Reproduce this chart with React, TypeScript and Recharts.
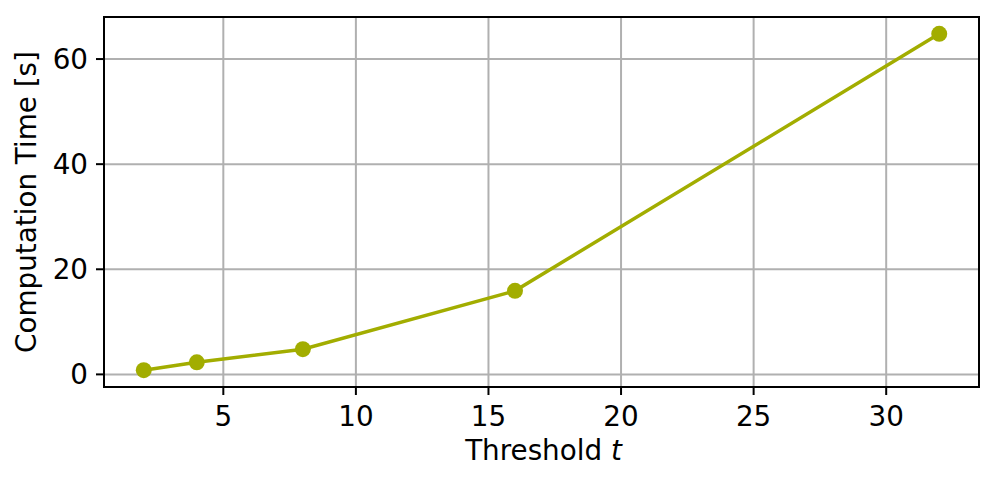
import React from "react";
import {
  LineChart,
  Line,
  XAxis,
  YAxis,
  CartesianGrid,
  ReferenceArea,
} from "recharts";

const thresholds = [2, 4, 8, 16, 32];
const times = [0.8, 2.3, 4.8, 15.9, 64.8];
const xTicks = [5, 10, 15, 20, 25, 30];
const yTicks = [0, 20, 40, 60];

const data = thresholds.map((t, i) => ({ t, time: times[i] }));

const X_DOMAIN: [number, number] = [0.5, 33.5];
const Y_DOMAIN: [number, number] = [-2.4, 68];
const LINE_COLOR = "#a2ad00";
const FONT = "'DejaVu Sans', sans-serif";
const FS = 27.8;

const XLabel = (props: any) => {
  const vb = props.viewBox || {};
  const cx = vb.x + vb.width / 2 + 2;
  return (
    <text x={cx} y={460} textAnchor="middle" fontSize={FS} fill="#000" fontFamily={FONT}>
      Threshold <tspan fontStyle="italic">t</tspan>
    </text>
  );
};

const YLabel = (props: any) => {
  const vb = props.viewBox || {};
  const cy = vb.y + vb.height / 2;
  return (
    <text
      x={36}
      y={cy}
      textAnchor="middle"
      fontSize={FS}
      fill="#000"
      fontFamily={FONT}
      transform={`rotate(-90, 36, ${cy})`}
    >
      Computation Time [s]
    </text>
  );
};

export default function App() {
  return (
    <div style={{ position: "absolute", left: 0, top: 0, width: 997, height: 484, background: "#fff" }}>
      <LineChart
        width={997}
        height={484}
        data={data}
        margin={{ top: 17, right: 18, bottom: 0, left: 0 }}
        style={{ fontFamily: FONT }}
      >
        <CartesianGrid stroke="#b0b0b0" strokeWidth={2} />
        <XAxis
          type="number"
          dataKey="t"
          domain={X_DOMAIN}
          ticks={xTicks}
          allowDataOverflow
          height={97}
          tickSize={8}
          tickMargin={11}
          tick={{ fontSize: FS, fill: "#000" }}
          tickLine={{ stroke: "#000", strokeWidth: 2 }}
          axisLine={{ stroke: "#000", strokeWidth: 2 }}
          label={<XLabel />}
        />
        <YAxis
          type="number"
          domain={Y_DOMAIN}
          ticks={yTicks}
          allowDataOverflow
          width={104}
          tickSize={8}
          tickMargin={8}
          tick={{ fontSize: FS, fill: "#000" }}
          tickLine={{ stroke: "#000", strokeWidth: 2 }}
          axisLine={{ stroke: "#000", strokeWidth: 2 }}
          label={<YLabel />}
        />
        <ReferenceArea
          x1={X_DOMAIN[0]}
          x2={X_DOMAIN[1]}
          y1={Y_DOMAIN[0]}
          y2={Y_DOMAIN[1]}
          fill="none"
          fillOpacity={0}
          stroke="#000"
          strokeWidth={2}
          strokeOpacity={1}
        />
        <Line
          type="linear"
          dataKey="time"
          stroke={LINE_COLOR}
          strokeWidth={3.5}
          dot={{ r: 8, fill: LINE_COLOR, stroke: LINE_COLOR, strokeWidth: 0, fillOpacity: 1 }}
          activeDot={false}
          isAnimationActive={false}
        />
      </LineChart>
    </div>
  );
}
